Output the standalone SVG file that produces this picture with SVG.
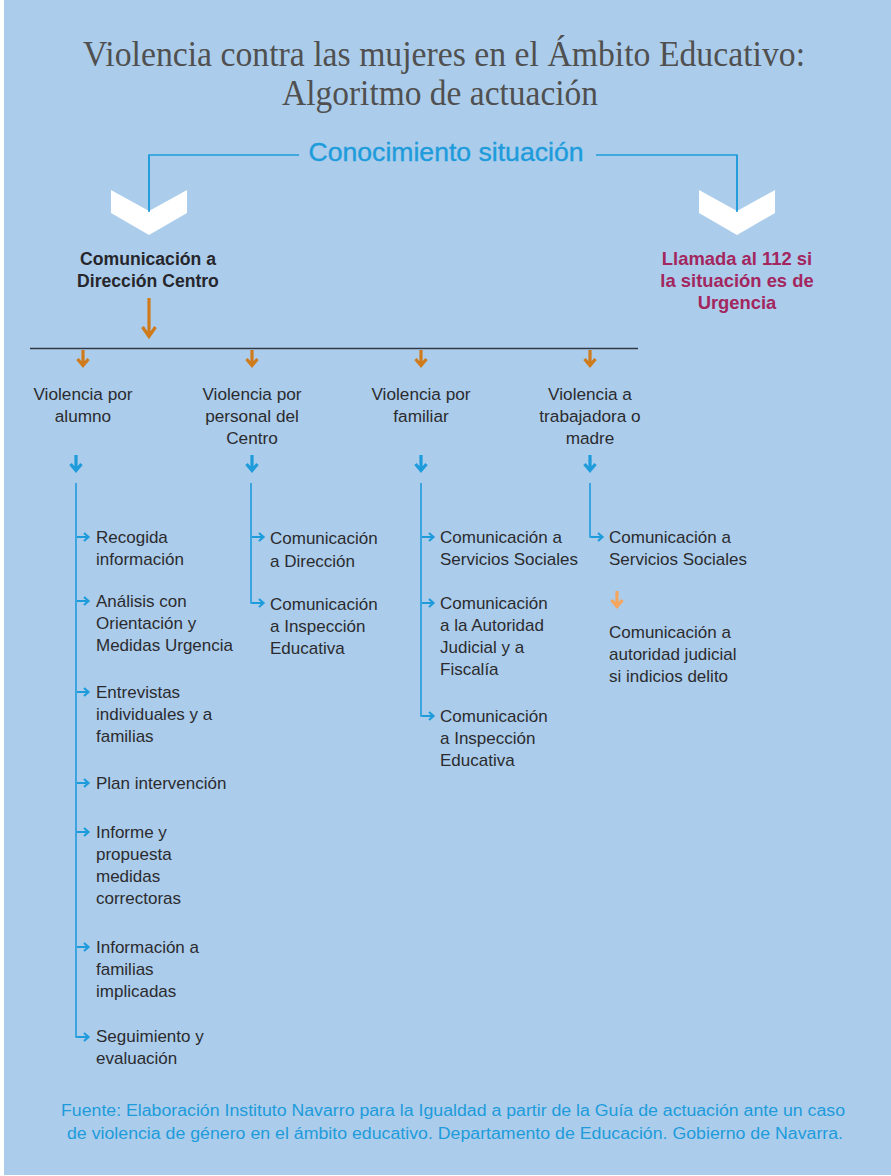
<svg xmlns="http://www.w3.org/2000/svg" width="891" height="1176" viewBox="0 0 891 1176">
<style>
.bg{fill:#abcdeb}
.title{font-family:"Liberation Serif","Times New Roman",serif;font-size:36px;fill:#505050;text-anchor:middle}
.con{font-family:"Liberation Sans",Arial,sans-serif;font-size:25px;fill:#1e9bdb;stroke:#1e9bdb;stroke-width:0.35;text-anchor:middle}
.bold{font-family:"Liberation Sans",Arial,sans-serif;font-weight:bold;text-anchor:middle}
.dark{fill:#26262c;font-size:17.6px}
.mag{fill:#a3265f;font-size:18.4px}
.hdr{font-family:"Liberation Sans",Arial,sans-serif;font-size:17.2px;fill:#2b2b2f;text-anchor:middle}
.item{font-family:"Liberation Sans",Arial,sans-serif;font-size:17px;fill:#2b2b2f}
.foot{font-family:"Liberation Sans",Arial,sans-serif;font-size:16px;fill:#1e9bdb;text-anchor:middle}
.bl{fill:none;stroke:#1e9bdb;stroke-width:1.6}
.ba{fill:none;stroke:#1e9bdb;stroke-width:2.2}
.bd{fill:none;stroke:#1e9bdb;stroke-width:3.2}
.od{fill:none;stroke:#cf7a1b;stroke-width:3.2}
.lo{fill:none;stroke:#f6a55c;stroke-width:3.2}
.chev{fill:#ffffff}
</style>
<defs>
<path id="down" d="M0,0 V16 M-5.5,9 L0,15.5 L5.5,9"/>
<path id="right" d="M0,0 H11 M7,-4 L11.5,0 L7,4"/>
</defs>
<rect x="0" y="0" width="891" height="1176" fill="#ffffff"/>
<rect class="bg" x="4" y="0" width="887" height="1175"/>

<g id="title">
<text class="title" x="444" y="66" textLength="722" lengthAdjust="spacingAndGlyphs">Violencia contra las mujeres en el Ámbito Educativo:</text>
<text class="title" x="440" y="105" textLength="316" lengthAdjust="spacingAndGlyphs">Algoritmo de actuación</text>
</g>

<g id="conocimiento">
<text class="con" x="446" y="161" textLength="275" lengthAdjust="spacingAndGlyphs">Conocimiento situación</text>
</g>

<g id="connectors">
<polyline class="bl" points="299,155 149,155 149,212"/>
<polyline class="bl" points="596,155 737,155 737,212"/>
<polygon class="chev" points="111,190 149,211 187,190 187,213 149,235 111,213"/>
<polygon class="chev" points="699,190 737,211 775,190 775,213 737,235 699,213"/>
<line class="bl" x1="149" y1="155" x2="149" y2="212"/>
<line class="bl" x1="737" y1="155" x2="737" y2="212"/>
<path class="od" d="M149,298 V337 M142.5,327 L149,336.5 L155.5,327" stroke-width="3.6"/>
<line x1="30" y1="348.5" x2="638" y2="348.5" stroke="#333844" stroke-width="1.6"/>
<use href="#down" class="od" x="83" y="350"/>
<use href="#down" class="od" x="252" y="350"/>
<use href="#down" class="od" x="421" y="350"/>
<use href="#down" class="od" x="590" y="350"/>
<use href="#down" class="bd" x="76" y="455"/>
<use href="#down" class="bd" x="252" y="455"/>
<use href="#down" class="bd" x="421" y="455"/>
<use href="#down" class="bd" x="590" y="455"/>
<!-- column 1 -->
<path class="bl" d="M76,483 V1037 H80"/>
<use href="#right" class="ba" x="77" y="537"/>
<use href="#right" class="ba" x="77" y="601"/>
<use href="#right" class="ba" x="77" y="692"/>
<use href="#right" class="ba" x="77" y="783"/>
<use href="#right" class="ba" x="77" y="832"/>
<use href="#right" class="ba" x="77" y="947"/>
<use href="#right" class="ba" x="77" y="1037"/>
<!-- column 2 -->
<path class="bl" d="M251,483 V603 H255"/>
<use href="#right" class="ba" x="252" y="537"/>
<use href="#right" class="ba" x="252" y="603"/>
<!-- column 3 -->
<path class="bl" d="M421,483 V716 H425"/>
<use href="#right" class="ba" x="422" y="537"/>
<use href="#right" class="ba" x="422" y="603"/>
<use href="#right" class="ba" x="422" y="716"/>
<!-- column 4 -->
<path class="bl" d="M590,483 V537 H594"/>
<use href="#right" class="ba" x="591" y="537"/>
<use href="#down" class="lo" x="617" y="591"/>
</g>

<g id="comunicacion-direccion">
<text class="bold dark" x="148" y="265">Comunicación a</text>
<text class="bold dark" x="148" y="287">Dirección Centro</text>
</g>

<g id="llamada-112">
<text class="bold mag" x="737" y="265">Llamada al 112 si</text>
<text class="bold mag" x="737" y="287">la situación es de</text>
<text class="bold mag" x="737" y="309">Urgencia</text>
</g>

<g id="violencia-alumno">
<text class="hdr" x="83" y="400">Violencia por</text>
<text class="hdr" x="83" y="422">alumno</text>
</g>
<g id="violencia-personal">
<text class="hdr" x="252" y="400">Violencia por</text>
<text class="hdr" x="252" y="422">personal del</text>
<text class="hdr" x="252" y="444">Centro</text>
</g>
<g id="violencia-familiar">
<text class="hdr" x="421" y="400">Violencia por</text>
<text class="hdr" x="421" y="422">familiar</text>
</g>
<g id="violencia-trabajadora">
<text class="hdr" x="590" y="400">Violencia a</text>
<text class="hdr" x="590" y="422">trabajadora o</text>
<text class="hdr" x="590" y="444">madre</text>
</g>

<g id="recogida-informacion">
<text class="item" x="96" y="543">Recogida</text>
<text class="item" x="96" y="565">información</text>
</g>
<g id="analisis-orientacion">
<text class="item" x="96" y="607">Análisis con</text>
<text class="item" x="96" y="629">Orientación y</text>
<text class="item" x="96" y="651">Medidas Urgencia</text>
</g>
<g id="entrevistas">
<text class="item" x="96" y="698">Entrevistas</text>
<text class="item" x="96" y="720">individuales y a</text>
<text class="item" x="96" y="742">familias</text>
</g>
<g id="plan-intervencion">
<text class="item" x="96" y="789">Plan intervención</text>
</g>
<g id="informe-propuesta">
<text class="item" x="96" y="838">Informe y</text>
<text class="item" x="96" y="860">propuesta</text>
<text class="item" x="96" y="882">medidas</text>
<text class="item" x="96" y="904">correctoras</text>
</g>
<g id="informacion-familias">
<text class="item" x="96" y="953">Información a</text>
<text class="item" x="96" y="975">familias</text>
<text class="item" x="96" y="997">implicadas</text>
</g>
<g id="seguimiento">
<text class="item" x="96" y="1042">Seguimiento y</text>
<text class="item" x="96" y="1064">evaluación</text>
</g>

<g id="personal-direccion">
<text class="item" x="270" y="544">Comunicación</text>
<text class="item" x="270" y="567">a Dirección</text>
</g>
<g id="personal-inspeccion">
<text class="item" x="270" y="610">Comunicación</text>
<text class="item" x="270" y="632">a Inspección</text>
<text class="item" x="270" y="654">Educativa</text>
</g>

<g id="familiar-servicios">
<text class="item" x="440" y="543">Comunicación a</text>
<text class="item" x="440" y="565">Servicios Sociales</text>
</g>
<g id="familiar-autoridad">
<text class="item" x="440" y="609">Comunicación</text>
<text class="item" x="440" y="631">a la Autoridad</text>
<text class="item" x="440" y="653">Judicial y a</text>
<text class="item" x="440" y="675">Fiscalía</text>
</g>
<g id="familiar-inspeccion">
<text class="item" x="440" y="722">Comunicación</text>
<text class="item" x="440" y="744">a Inspección</text>
<text class="item" x="440" y="766">Educativa</text>
</g>

<g id="trabajadora-servicios">
<text class="item" x="609" y="543">Comunicación a</text>
<text class="item" x="609" y="565">Servicios Sociales</text>
</g>
<g id="trabajadora-autoridad">
<text class="item" x="609" y="638">Comunicación a</text>
<text class="item" x="609" y="660">autoridad judicial</text>
<text class="item" x="609" y="682">si indicios delito</text>
</g>

<g id="footer">
<text class="foot" x="453" y="1116" textLength="784" lengthAdjust="spacingAndGlyphs">Fuente: Elaboración Instituto Navarro para la Igualdad a partir de la Guía de actuación ante un caso</text>
<text class="foot" x="455" y="1139" textLength="776" lengthAdjust="spacingAndGlyphs">de violencia de género en el ámbito educativo.  Departamento de Educación. Gobierno de Navarra.</text>
</g>
</svg>
